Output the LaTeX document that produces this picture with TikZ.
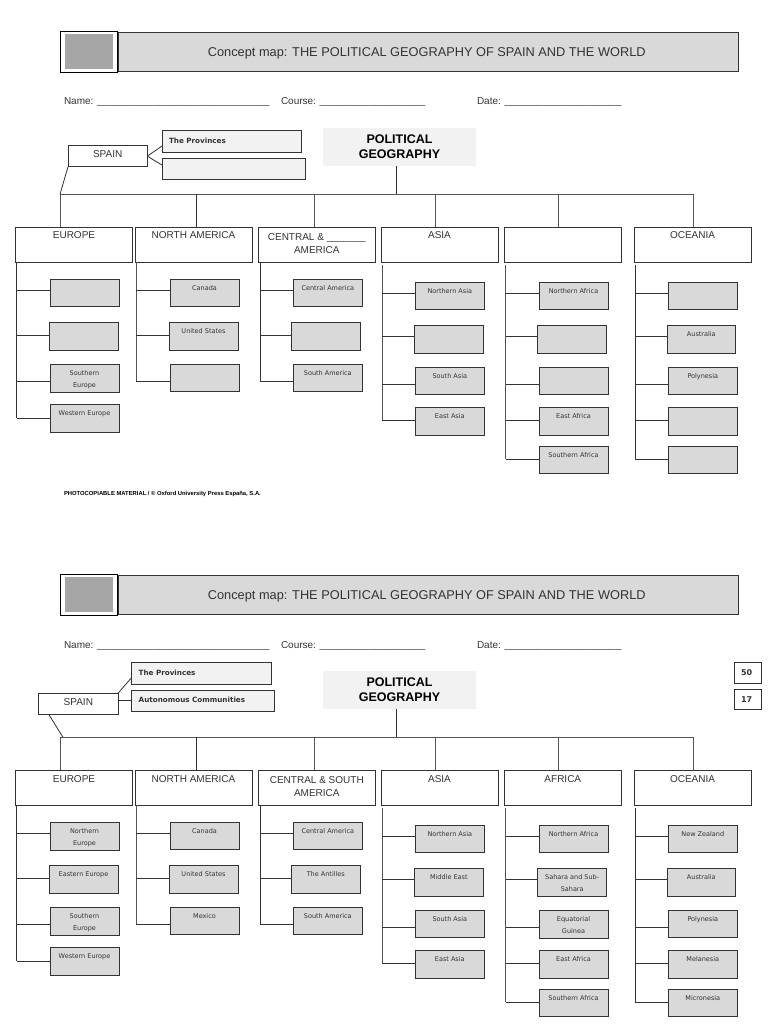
\documentclass[tikz,border=0pt]{standalone}
\usepackage{fontspec}
\setmainfont{Liberation Sans}
\newfontfamily\leaffont{DejaVu Sans}
\definecolor{boxgrey}{HTML}{D9D9D9}
\definecolor{palegrey}{HTML}{F2F2F2}
\definecolor{squaregrey}{HTML}{A6A6A6}
\definecolor{inkgrey}{HTML}{333333}
\definecolor{linegrey}{HTML}{555555}
\begin{document}
\begin{tikzpicture}[x=1pt,y=-1pt,line width=0.9pt,
  every node/.style={anchor=north west,inner sep=0pt,outer sep=0pt,text=inkgrey},
  leaf/.style={draw=inkgrey,fill=boxgrey,minimum width=69pt,align=center,text height=11pt,text depth=16.5pt,font=\leaffont\fontsize{6.5}{12}\selectfont},
  leaftwo/.style={leaf,text height=23pt,text depth=5pt},
  catbox/.style={draw=inkgrey,fill=white,minimum width=117pt,align=center,text height=12pt,text depth=23pt,font=\fontsize{10}{13}\selectfont},
  cattwo/.style={catbox,text height=26pt,text depth=9pt},
  spainbox/.style={draw=inkgrey,fill=white,minimum width=79.3pt,minimum height=21pt,align=center,text depth=4pt,font=\fontsize{10}{12}\selectfont},
  subbox/.style={draw=inkgrey,fill=palegrey,minimum height=21.5pt,text width=125.6pt,inner xsep=7pt,text height=5.2pt,text depth=2pt,font=\leaffont\bfseries\fontsize{7.2}{8}\selectfont},
  mainbox/.style={fill=palegrey,minimum width=153pt,minimum height=37.7pt,align=center,text=black,text depth=0.5pt,font=\bfseries\fontsize{12.5}{15}\selectfont},
  band/.style={draw=inkgrey,fill=boxgrey,minimum width=620pt,minimum height=38.3pt,text height=9.2pt,text depth=0pt,font=\fontsize{12.78}{15}\selectfont},
  square/.style={draw=black,fill=white,minimum width=57.7pt,minimum height=40.3pt},
  inner/.style={fill=squaregrey,minimum width=48pt,minimum height=34.7pt},
  formline/.style={anchor=base west,font=\fontsize{10}{12}\selectfont},
  numbox/.style={draw=inkgrey,fill=white,minimum height=20.4pt,text width=13.7pt,inner xsep=7pt,font=\leaffont\bfseries\fontsize{8}{9}\selectfont},
  bus/.style={draw=linegrey},
  stem/.style={draw=inkgrey,line width=0.8pt}]
  \useasboundingbox (0,0) rectangle (768,1024);

  \node[band,anchor=center] (title) at (428,52){Concept map: THE POLITICAL GEOGRAPHY OF SPAIN AND THE WORLD\hspace*{2.5pt}};
  \node[square] (square) at (60,31.7){};
  \node[inner] (inner) at (65,34){};
  \node[formline] (name) at (64,105){Name: \_\_\_\_\_\_\_\_\_\_\_\_\_\_\_\_\_\_\_\_\_\_\_\_\_\_\_\_\_\_\_};
  \node[formline] (course) at (281,105){Course: \_\_\_\_\_\_\_\_\_\_\_\_\_\_\_\_\_\_\_};
  \node[formline] (date) at (477,105){Date: \_\_\_\_\_\_\_\_\_\_\_\_\_\_\_\_\_\_\_\_\_};
  \node[spainbox] (spain) at (68,145.7){SPAIN};
  \node[subbox] (prov) at (162,130.7){The Provinces};
  \node[subbox,text width=129pt] (auto) at (162,158){};
  \node[mainbox] (geo) at (323,128){POLITICAL\\GEOGRAPHY};
  \node[catbox] (eu) at (15.5,227){EUROPE};
  \node[catbox] (na) at (135,227){NORTH AMERICA};
  \node[cattwo] (ca) at (258.3,227){CENTRAL \& \_\_\_\_\_\_\_\\AMERICA};
  \node[catbox] (as) at (381,227){ASIA};
  \node[catbox] (af) at (504.3,227){};
  \node[catbox] (oc) at (634,227){OCEANIA};
  \node[leaf] (eu1) at (50,279.3){};
  \node[leaf] (eu2) at (49,322.7){};
  \node[leaftwo] (eu3) at (50,364.3){Southern\\Europe};
  \node[leaf] (eu4) at (50,404.7){Western Europe};
  \node[leaf] (na1) at (170,279.3){Canada};
  \node[leaf] (na2) at (169,322.7){United States};
  \node[leaf] (na3) at (170,364.3){};
  \node[leaf] (ca1) at (293.3,279.3){Central America};
  \node[leaf] (ca2) at (291.3,322.7){};
  \node[leaf] (ca3) at (293.3,364.3){South America};
  \node[leaf] (as1) at (415.3,282.3){Northern Asia};
  \node[leaf] (as2) at (414.3,325.7){};
  \node[leaf] (as3) at (415.3,367.3){South Asia};
  \node[leaf] (as4) at (415.3,407.7){East Asia};
  \node[leaf] (af1) at (539,282.3){Northern Africa};
  \node[leaf] (af2) at (537.7,325.7){};
  \node[leaf] (af3) at (539,367.3){};
  \node[leaf] (af4) at (539,407.7){East Africa};
  \node[leaf] (af5) at (539,446){Southern Africa};
  \node[leaf] (oc1) at (668.3,282.3){};
  \node[leaf,minimum width=68pt] (oc2) at (667.3,325.7){Australia};
  \node[leaf] (oc3) at (668.3,367.3){Polynesia};
  \node[leaf] (oc4) at (668.3,407.7){};
  \node[leaf] (oc5) at (668.3,446){};
  \node[anchor=west,text=black,font=\bfseries\fontsize{5.85}{7}\selectfont] (foot) at (64,493.5){PHOTOCOPIABLE MATERIAL / © Oxford University Press España, S.A.};

  \coordinate (la1) at (0,290.7);
  \coordinate (la2) at (0,335);
  \coordinate (la3) at (0,381.7);
  \coordinate (la4) at (0,418);
  \coordinate (lb1) at (0,293.3);
  \coordinate (lb2) at (0,336.7);
  \coordinate (lb3) at (0,384.3);
  \coordinate (lb4) at (0,420.7);
  \coordinate (lb5) at (0,459.3);
  \coordinate (d1) at (60,194.3);
  \coordinate (d2) at (196.5,194.3);
  \coordinate (d3) at (314.5,194.3);
  \coordinate (d4) at (396.5,194.3);
  \coordinate (d5) at (435.7,194.3);
  \coordinate (d6) at (558.3,194.3);
  \coordinate (d7) at (693.5,194.3);
  \coordinate (euT) at (16.5,262.3);
  \coordinate (naT) at (136,262.3);
  \coordinate (caT) at (260,262.3);
  \coordinate (asT) at (382.3,265);
  \coordinate (afT) at (505.7,265);
  \coordinate (ocT) at (635,265);
  \coordinate (pr) at (162,146);
  \coordinate (ar) at (162,165);
  \draw[stem](spain.east)--(pr);
  \draw[stem](spain.east)--(ar);
  \draw[stem](spain.south west)--(d1);
  \draw[stem](geo.south -| d4)--(d4);
  \draw[bus](d1)--(d7);
  \draw[bus](d1)--(d1 |- eu.north);
  \draw[stem](d2)--(d2 |- na.north);
  \draw[bus](d3)--(d3 |- ca.north);
  \draw[bus](d5)--(d5 |- as.north);
  \draw[bus](d6)--(d6 |- af.north);
  \draw[bus](d7)--(d7 |- oc.north);
  \draw[stem](euT)--(euT |- la4);
  \draw[bus](naT)--(naT |- la3);
  \draw[stem](caT)--(caT |- la3);
  \draw[bus](asT)--(asT |- lb4);
  \draw[bus](afT)--(afT |- lb5);
  \draw[stem](ocT)--(ocT |- lb5);
  \draw[stem](euT |- la1)--(eu1.west |- la1);
  \draw[stem](euT |- la2)--(eu2.west |- la2);
  \draw[stem](euT |- la3)--(eu3.west |- la3);
  \draw[stem](euT |- la4)--(eu4.west |- la4);
  \draw[stem](naT |- la1)--(na1.west |- la1);
  \draw[stem](naT |- la2)--(na2.west |- la2);
  \draw[stem](naT |- la3)--(na3.west |- la3);
  \draw[stem](caT |- la1)--(ca1.west |- la1);
  \draw[stem](caT |- la2)--(ca2.west |- la2);
  \draw[stem](caT |- la3)--(ca3.west |- la3);
  \draw[stem](asT |- lb1)--(as1.west |- lb1);
  \draw[stem](asT |- lb2)--(as2.west |- lb2);
  \draw[stem](asT |- lb3)--(as3.west |- lb3);
  \draw[stem](asT |- lb4)--(as4.west |- lb4);
  \draw[stem](afT |- lb1)--(af1.west |- lb1);
  \draw[stem](afT |- lb2)--(af2.west |- lb2);
  \draw[stem](afT |- lb3)--(af3.west |- lb3);
  \draw[stem](afT |- lb4)--(af4.west |- lb4);
  \draw[stem](afT |- lb5)--(af5.west |- lb5);
  \draw[stem](ocT |- lb1)--(oc1.west |- lb1);
  \draw[stem](ocT |- lb2)--(oc2.west |- lb2);
  \draw[stem](ocT |- lb3)--(oc3.west |- lb3);
  \draw[stem](ocT |- lb4)--(oc4.west |- lb4);
  \draw[stem](ocT |- lb5)--(oc5.west |- lb5);

  \node[band,anchor=center] (titleb) at (428,595){Concept map: THE POLITICAL GEOGRAPHY OF SPAIN AND THE WORLD\hspace*{2.5pt}};
  \node[square] (squareb) at (60,574.7){};
  \node[inner] (innerb) at (65,577){};
  \node[formline] (nameb) at (64,648){Name: \_\_\_\_\_\_\_\_\_\_\_\_\_\_\_\_\_\_\_\_\_\_\_\_\_\_\_\_\_\_\_};
  \node[formline] (courseb) at (281,648){Course: \_\_\_\_\_\_\_\_\_\_\_\_\_\_\_\_\_\_\_};
  \node[formline] (dateb) at (477,648){Date: \_\_\_\_\_\_\_\_\_\_\_\_\_\_\_\_\_\_\_\_\_};
  \node[spainbox] (spainb) at (38.7,693.3){SPAIN};
  \node[subbox] (provb) at (131.7,662.7){The Provinces};
  \node[subbox,text width=129pt] (autob) at (131.7,690){Autonomous Communities};
  \node[mainbox] (geob) at (323,671){POLITICAL\\GEOGRAPHY};
  \node[numbox] (n50) at (734,662.7){50};
  \node[numbox] (n17) at (734,689){17};
  \node[catbox] (eub) at (15.5,770){EUROPE};
  \node[catbox] (nab) at (135,770){NORTH AMERICA};
  \node[cattwo] (cab) at (258.3,770){CENTRAL \& SOUTH\\AMERICA};
  \node[catbox] (asb) at (381,770){ASIA};
  \node[catbox] (afb) at (504.3,770){AFRICA};
  \node[catbox] (ocb) at (634,770){OCEANIA};
  \node[leaftwo] (eu1b) at (50,822.3){Northern\\Europe};
  \node[leaf] (eu2b) at (49,865.7){Eastern Europe};
  \node[leaftwo] (eu3b) at (50,907.3){Southern\\Europe};
  \node[leaf] (eu4b) at (50,947.7){Western Europe};
  \node[leaf] (na1b) at (170,822.3){Canada};
  \node[leaf] (na2b) at (169,865.7){United States};
  \node[leaf] (na3b) at (170,907.3){Mexico};
  \node[leaf] (ca1b) at (293.3,822.3){Central America};
  \node[leaf] (ca2b) at (291.3,865.7){The Antilles};
  \node[leaf] (ca3b) at (293.3,907.3){South America};
  \node[leaf] (as1b) at (415.3,825.3){Northern Asia};
  \node[leaf] (as2b) at (414.3,868.7){Middle East};
  \node[leaf] (as3b) at (415.3,910.3){South Asia};
  \node[leaf] (as4b) at (415.3,950.7){East Asia};
  \node[leaf] (af1b) at (539,825.3){Northern Africa};
  \node[leaftwo] (af2b) at (537.7,868.7){Sahara and Sub-\\Sahara};
  \node[leaftwo] (af3b) at (539,910.3){Equatorial\\Guinea};
  \node[leaf] (af4b) at (539,950.7){East Africa};
  \node[leaf] (af5b) at (539,989){Southern Africa};
  \node[leaf] (oc1b) at (668.3,825.3){New Zealand};
  \node[leaf,minimum width=68pt] (oc2b) at (667.3,868.7){Australia};
  \node[leaf] (oc3b) at (668.3,910.3){Polynesia};
  \node[leaf] (oc4b) at (668.3,950.7){Melanesia};
  \node[leaf] (oc5b) at (668.3,989){Micronesia};

  \coordinate (ma1) at (0,833.7);
  \coordinate (ma2) at (0,878);
  \coordinate (ma3) at (0,924.7);
  \coordinate (ma4) at (0,961);
  \coordinate (mb1) at (0,836.3);
  \coordinate (mb2) at (0,879.7);
  \coordinate (mb3) at (0,927.3);
  \coordinate (mb4) at (0,963.7);
  \coordinate (mb5) at (0,1002.3);
  \coordinate (d0b) at (63,737.3);
  \coordinate (d1b) at (60,737.3);
  \coordinate (d2b) at (196.5,737.3);
  \coordinate (d3b) at (314.5,737.3);
  \coordinate (d4b) at (396.5,737.3);
  \coordinate (d5b) at (435.7,737.3);
  \coordinate (d6b) at (558.3,737.3);
  \coordinate (d7b) at (693.5,737.3);
  \coordinate (euTb) at (16.5,805.3);
  \coordinate (naTb) at (136,805.3);
  \coordinate (caTb) at (260,805.3);
  \coordinate (asTb) at (382.3,808);
  \coordinate (afTb) at (505.7,808);
  \coordinate (ocTb) at (635,808);
  \coordinate (sb) at (48.7,714.3);
  \coordinate (prb) at (131.7,677.5);
  \draw[stem](spainb.north east)--(prb);
  \draw[stem](spainb.east |- autob.east)--(autob.west);
  \draw[stem](sb)--(d0b);
  \draw[stem](geob.south -| d4b)--(d4b);
  \draw[bus](d1b)--(d7b);
  \draw[bus](d1b)--(d1b |- eub.north);
  \draw[stem](d2b)--(d2b |- nab.north);
  \draw[bus](d3b)--(d3b |- cab.north);
  \draw[bus](d5b)--(d5b |- asb.north);
  \draw[bus](d6b)--(d6b |- afb.north);
  \draw[bus](d7b)--(d7b |- ocb.north);
  \draw[stem](euTb)--(euTb |- ma4);
  \draw[bus](naTb)--(naTb |- ma3);
  \draw[stem](caTb)--(caTb |- ma3);
  \draw[bus](asTb)--(asTb |- mb4);
  \draw[bus](afTb)--(afTb |- mb5);
  \draw[stem](ocTb)--(ocTb |- mb5);
  \draw[stem](euTb |- ma1)--(eu1b.west |- ma1);
  \draw[stem](euTb |- ma2)--(eu2b.west |- ma2);
  \draw[stem](euTb |- ma3)--(eu3b.west |- ma3);
  \draw[stem](euTb |- ma4)--(eu4b.west |- ma4);
  \draw[stem](naTb |- ma1)--(na1b.west |- ma1);
  \draw[stem](naTb |- ma2)--(na2b.west |- ma2);
  \draw[stem](naTb |- ma3)--(na3b.west |- ma3);
  \draw[stem](caTb |- ma1)--(ca1b.west |- ma1);
  \draw[stem](caTb |- ma2)--(ca2b.west |- ma2);
  \draw[stem](caTb |- ma3)--(ca3b.west |- ma3);
  \draw[stem](asTb |- mb1)--(as1b.west |- mb1);
  \draw[stem](asTb |- mb2)--(as2b.west |- mb2);
  \draw[stem](asTb |- mb3)--(as3b.west |- mb3);
  \draw[stem](asTb |- mb4)--(as4b.west |- mb4);
  \draw[stem](afTb |- mb1)--(af1b.west |- mb1);
  \draw[stem](afTb |- mb2)--(af2b.west |- mb2);
  \draw[stem](afTb |- mb3)--(af3b.west |- mb3);
  \draw[stem](afTb |- mb4)--(af4b.west |- mb4);
  \draw[stem](afTb |- mb5)--(af5b.west |- mb5);
  \draw[stem](ocTb |- mb1)--(oc1b.west |- mb1);
  \draw[stem](ocTb |- mb2)--(oc2b.west |- mb2);
  \draw[stem](ocTb |- mb3)--(oc3b.west |- mb3);
  \draw[stem](ocTb |- mb4)--(oc4b.west |- mb4);
  \draw[stem](ocTb |- mb5)--(oc5b.west |- mb5);
\end{tikzpicture}
\end{document}
